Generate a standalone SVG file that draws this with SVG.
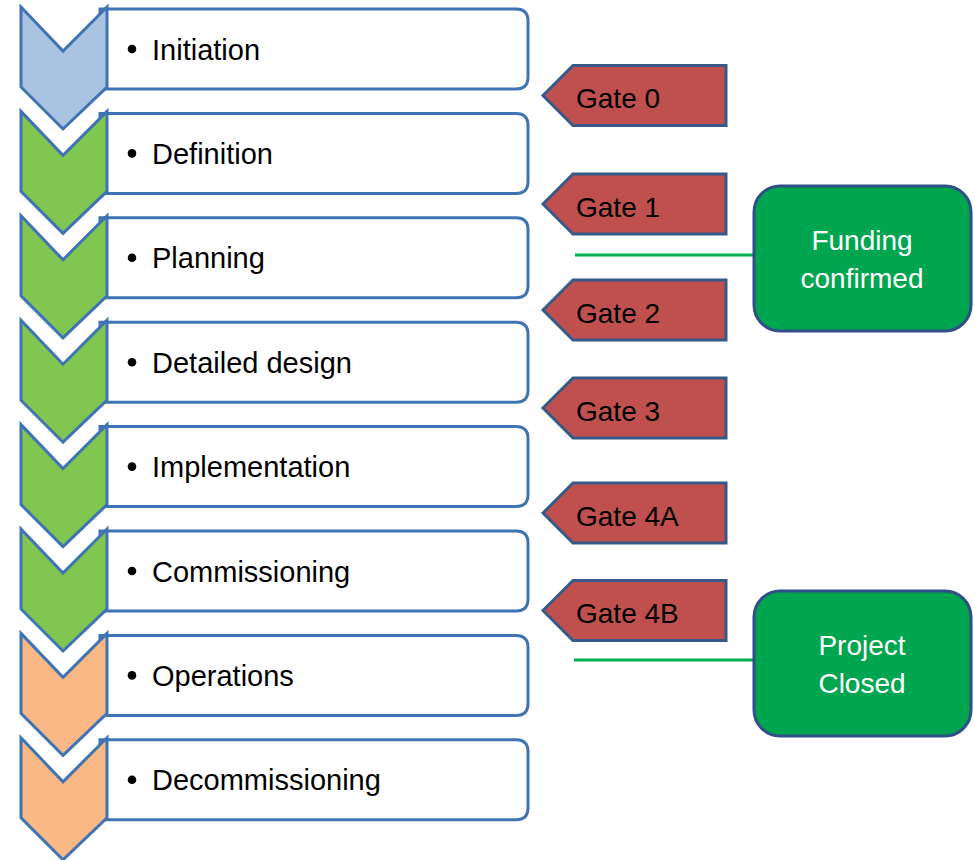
<svg xmlns="http://www.w3.org/2000/svg" width="975" height="860" viewBox="0 0 975 860">
<style>
.box{fill:#fff;stroke:#3F74B4;stroke-width:3}
.chev{stroke:#3F74B4;stroke-width:3;stroke-linejoin:miter;stroke-miterlimit:3}
.c-blue{fill:#A9C3E0}
.c-green{fill:#82C652}
.c-orange{fill:#FBB887}
.lbl{font-family:"Liberation Sans",Arial,sans-serif;font-size:29px;fill:#000}
.bul{fill:#000}
.gate{fill:#C0504D;stroke:#36598A;stroke-width:3;stroke-linejoin:miter}
.glbl{font-family:"Liberation Sans",Arial,sans-serif;font-size:28px;fill:#000}
.ms{fill:#00A54F;stroke:#2F4F86;stroke-width:3}
.mlbl{font-family:"Liberation Sans",Arial,sans-serif;font-size:28px;fill:#fff;text-anchor:middle}
.conn{stroke:#00B050;stroke-width:3;fill:none}
</style>
<defs>
<path id="rbox" d="M100,0 H516 Q528,0 528,12 V68 Q528,80 516,80 H100 Z"/>
<path id="chev" d="M21,0 L63,44 L107,0 L107,80 L63,122 L21,80 Z"/>
<path id="gshape" d="M543,0 L573,-30 L726,-30 L726,30 L573,30 Z"/>
</defs>

<g id="phase-initiation">
<use href="#rbox" class="box" transform="translate(0,9)"/>
<use href="#chev" class="chev c-blue" transform="translate(0,7)"/>
<circle class="bul" cx="132" cy="49" r="4.3"/>
<text class="lbl" x="152" y="59.5">Initiation</text>
</g>
<g id="phase-definition">
<use href="#rbox" class="box" transform="translate(0,113.4)"/>
<use href="#chev" class="chev c-green" transform="translate(0,111.4)"/>
<circle class="bul" cx="132" cy="153.4" r="4.3"/>
<text class="lbl" x="152" y="163.9">Definition</text>
</g>
<g id="phase-planning">
<use href="#rbox" class="box" transform="translate(0,217.8)"/>
<use href="#chev" class="chev c-green" transform="translate(0,215.8)"/>
<circle class="bul" cx="132" cy="257.8" r="4.3"/>
<text class="lbl" x="152" y="268.3">Planning</text>
</g>
<g id="phase-detailed-design">
<use href="#rbox" class="box" transform="translate(0,322.2)"/>
<use href="#chev" class="chev c-green" transform="translate(0,320.2)"/>
<circle class="bul" cx="132" cy="362.2" r="4.3"/>
<text class="lbl" x="152" y="372.7">Detailed design</text>
</g>
<g id="phase-implementation">
<use href="#rbox" class="box" transform="translate(0,426.6)"/>
<use href="#chev" class="chev c-green" transform="translate(0,424.6)"/>
<circle class="bul" cx="132" cy="466.6" r="4.3"/>
<text class="lbl" x="152" y="477.1">Implementation</text>
</g>
<g id="phase-commissioning">
<use href="#rbox" class="box" transform="translate(0,531)"/>
<use href="#chev" class="chev c-green" transform="translate(0,529)"/>
<circle class="bul" cx="132" cy="571" r="4.3"/>
<text class="lbl" x="152" y="581.5">Commissioning</text>
</g>
<g id="phase-operations">
<use href="#rbox" class="box" transform="translate(0,635.4)"/>
<use href="#chev" class="chev c-orange" transform="translate(0,633.4)"/>
<circle class="bul" cx="132" cy="675.4" r="4.3"/>
<text class="lbl" x="152" y="685.9">Operations</text>
</g>
<g id="phase-decommissioning">
<use href="#rbox" class="box" transform="translate(0,739.8)"/>
<use href="#chev" class="chev c-orange" transform="translate(0,737.8)"/>
<circle class="bul" cx="132" cy="779.8" r="4.3"/>
<text class="lbl" x="152" y="790.3">Decommissioning</text>
</g>

<g id="connectors">
<line class="conn" x1="575" y1="255" x2="754" y2="255"/>
<line class="conn" x1="574" y1="660" x2="754" y2="660"/>
</g>

<g id="gate-0">
<use href="#gshape" class="gate" transform="translate(0,95.5)"/>
<text class="glbl" x="576" y="108">Gate 0</text>
</g>
<g id="gate-1">
<use href="#gshape" class="gate" transform="translate(0,204)"/>
<text class="glbl" x="576" y="216.5">Gate 1</text>
</g>
<g id="gate-2">
<use href="#gshape" class="gate" transform="translate(0,310)"/>
<text class="glbl" x="576" y="322.5">Gate 2</text>
</g>
<g id="gate-3">
<use href="#gshape" class="gate" transform="translate(0,408)"/>
<text class="glbl" x="576" y="420.5">Gate 3</text>
</g>
<g id="gate-4a">
<use href="#gshape" class="gate" transform="translate(0,513)"/>
<text class="glbl" x="576" y="525.5">Gate 4A</text>
</g>
<g id="gate-4b">
<use href="#gshape" class="gate" transform="translate(0,610.5)"/>
<text class="glbl" x="576" y="623">Gate 4B</text>
</g>

<g id="milestone-funding">
<rect class="ms" x="754" y="186" width="217" height="145" rx="26"/>
<text class="mlbl" x="862" y="250">Funding</text>
<text class="mlbl" x="862" y="288">confirmed</text>
</g>
<g id="milestone-closed">
<rect class="ms" x="754" y="591" width="217" height="145" rx="26"/>
<text class="mlbl" x="862" y="655">Project</text>
<text class="mlbl" x="862" y="693">Closed</text>
</g>
</svg>
